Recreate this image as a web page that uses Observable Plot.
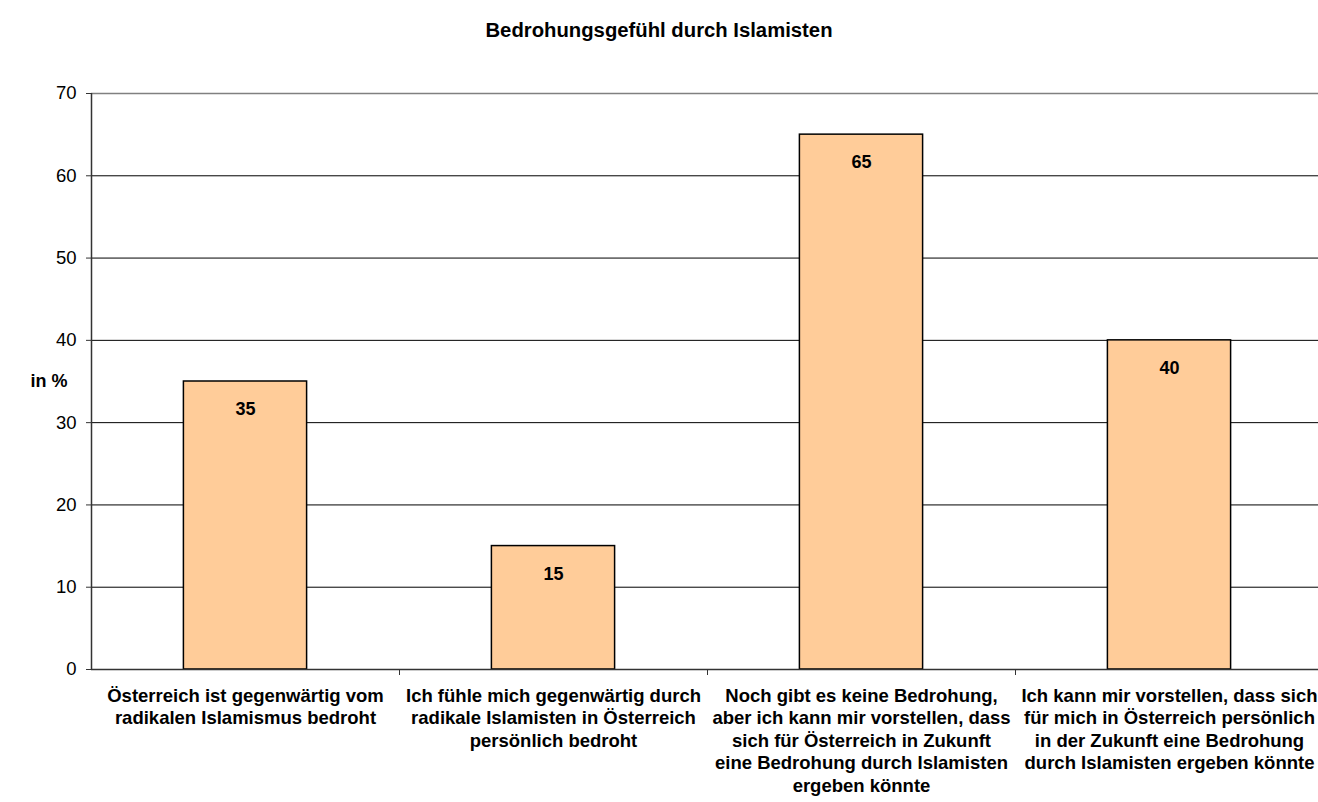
<!DOCTYPE html>
<html>
<head>
<meta charset="utf-8">
<script src="https://cdn.jsdelivr.net/npm/d3@7"></script>
<script src="https://cdn.jsdelivr.net/npm/@observablehq/plot@0.6"></script>
<style>
  body { margin: 0; background: #fff; overflow: hidden; font-family: "Liberation Sans", Arial, sans-serif; }
  #title { width: 1318px; height: 60px; line-height: 60px; text-align: center; font-weight: bold; font-size: 20.3px; color: #000; }
  #chart svg { max-width: none !important; display: block; }
</style>
</head>
<body>
<div id="title">Bedrohungsgefühl durch Islamisten</div>
<div id="chart"></div>
<script>
// Survey statements (x categories) and share of respondents agreeing, in %
const categories = [
  "Österreich ist gegenwärtig vom\nradikalen Islamismus bedroht",
  "Ich fühle mich gegenwärtig durch\nradikale Islamisten in Österreich\npersönlich bedroht",
  "Noch gibt es keine Bedrohung,\naber ich kann mir vorstellen, dass\nsich für Österreich in Zukunft\neine Bedrohung durch Islamisten\nergeben könnte",
  "Ich kann mir vorstellen, dass sich\nfür mich in Österreich persönlich\nin der Zukunft eine Bedrohung\ndurch Islamisten ergeben könnte"
];
const values = [35, 15, 65, 40];
const yTicks = [0, 10, 20, 30, 40, 50, 60, 70];
const yLabel = "in %";

const data = categories.map((category, index) => ({category, index, value: values[index]}));

const chart = Plot.plot({
  width: 1330,
  height: 742,
  marginTop: 33,
  marginBottom: 133,
  marginLeft: 91,
  marginRight: 7,
  style: {fontFamily: "'Liberation Sans', Arial, sans-serif", fontSize: "18px", color: "#000", background: "#fff", maxWidth: "none"},
  x: {domain: [0, categories.length], axis: null},
  y: {domain: [0, 70], axis: null},
  marks: [
    // horizontal gridlines
    Plot.ruleY(yTicks.filter(t => t > 0 && t < 70), {stroke: "#000", strokeWidth: 1}),
    Plot.ruleY([70], {stroke: "#808080", strokeWidth: 1.5}),
    // bars
    Plot.rectY(data, {
      x1: d => d.index + 0.3,
      x2: d => d.index + 0.7,
      y: "value",
      fill: "#FFCC99",
      stroke: "#000",
      strokeWidth: 1.5
    }),
    // value labels inside the bars
    Plot.text(data, {
      x: d => d.index + 0.5,
      y: "value",
      text: d => String(d.value),
      dy: 28,
      fontWeight: "bold",
      fontSize: 18,
      fill: "#000"
    }),
    // axis lines
    Plot.ruleY([0], {stroke: "#333", strokeWidth: 1.5}),
    Plot.ruleX([0], {stroke: "#333", strokeWidth: 1.5}),
    // y axis ticks and labels
    Plot.axisY({ticks: yTicks, tickSize: 5, tickPadding: 10, stroke: "#333", fontSize: 18.5, label: null}),
    // category boundary ticks below the x axis
    Plot.axisX({ticks: [1, 2, 3], tickSize: 6, tickFormat: () => "", stroke: "#333", label: null}),
    // category labels
    Plot.text(data, {
      x: d => d.index + 0.5,
      y: 0,
      text: "category",
      lineAnchor: "top",
      dy: 16,
      lineHeight: 1.22,
      fontWeight: "bold",
      fontSize: 18.5,
      fill: "#000"
    }),
    // y axis title
    Plot.text([yLabel], {frameAnchor: "left", dx: -61, fontWeight: "bold", fontSize: 18, fill: "#000"})
  ]
});
document.getElementById("chart").append(chart);
</script>
</body>
</html>
